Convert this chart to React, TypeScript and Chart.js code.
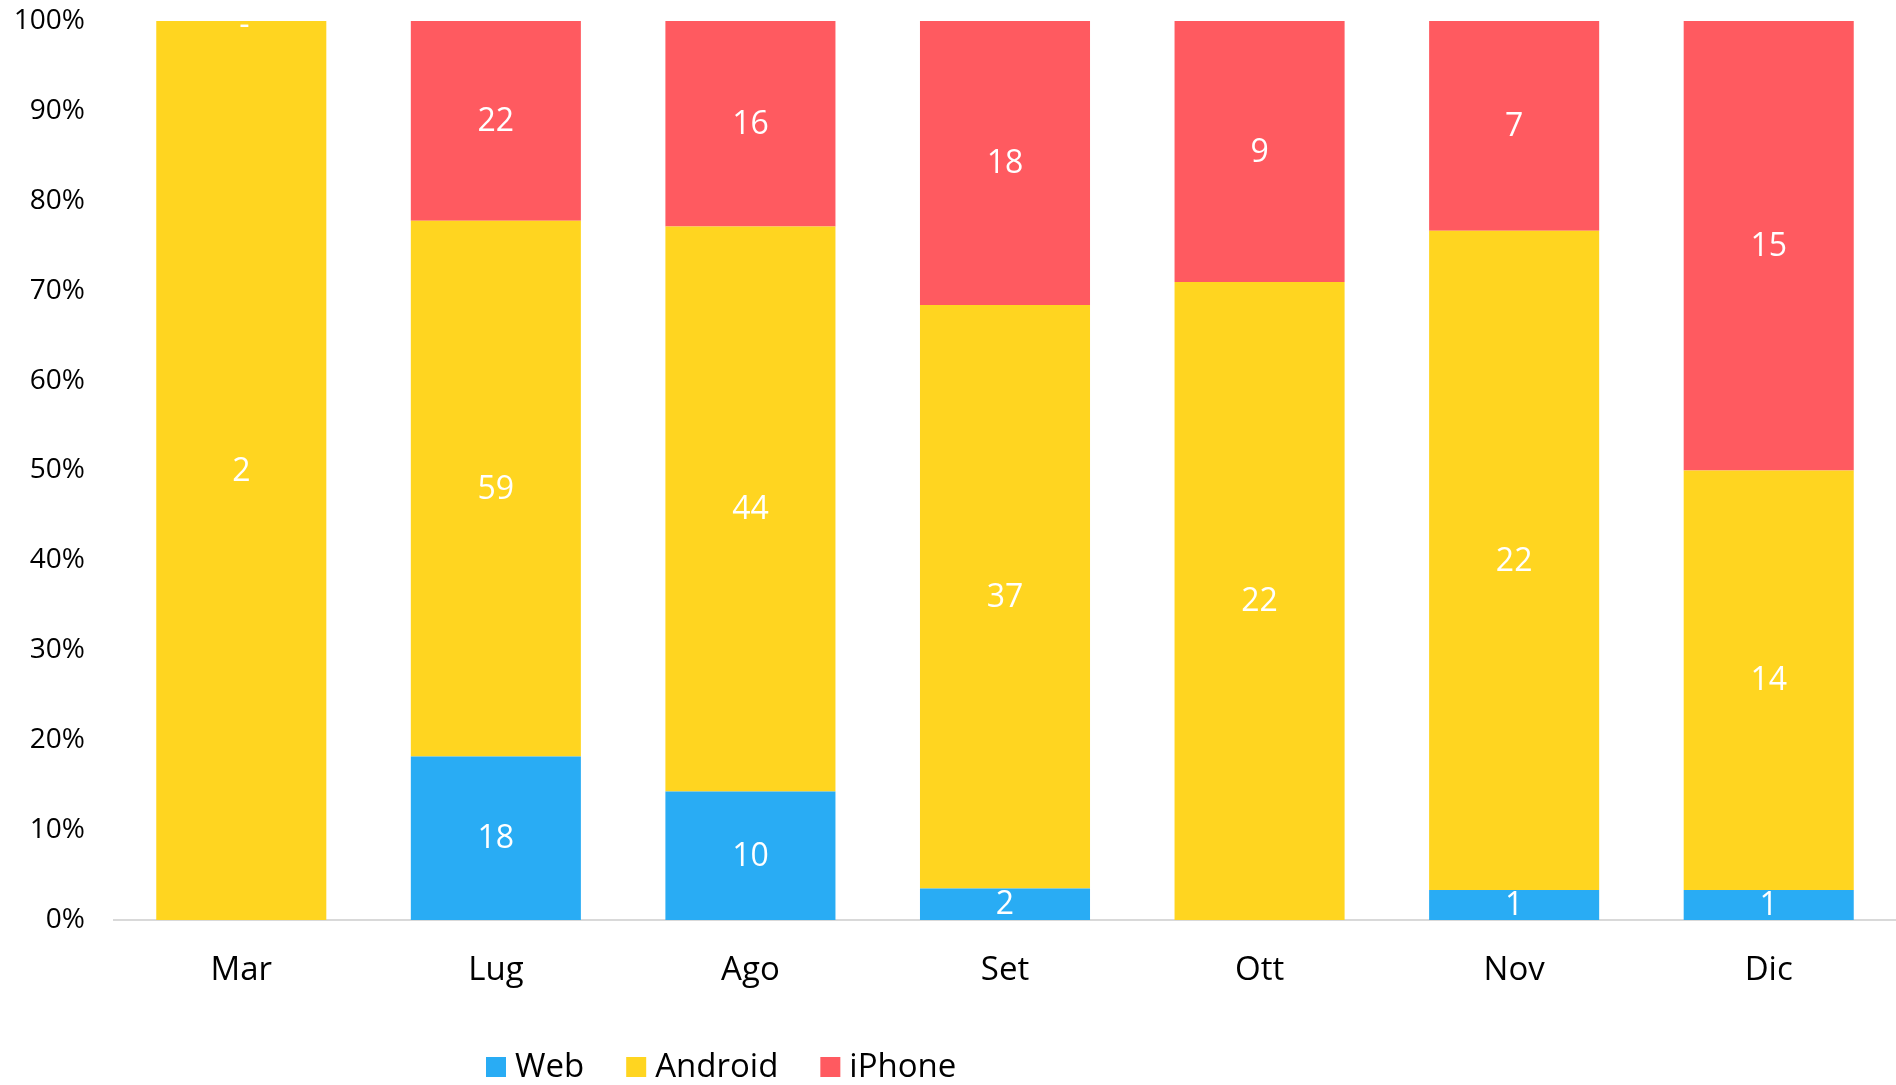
import React, { useEffect, useRef } from "react";
import { Chart, registerables } from "chart.js";

Chart.register(...registerables);

const categories = ["Mar", "Lug", "Ago", "Set", "Ott", "Nov", "Dic"];
const webValues = [0, 18, 10, 2, 0, 1, 1];
const androidValues = [2, 59, 44, 37, 22, 22, 14];
const iphoneValues = [0, 22, 16, 18, 9, 7, 15];
const yTicks = [0, 10, 20, 30, 40, 50, 60, 70, 80, 90, 100];

const seriesNames = ["Web", "Android", "iPhone"];
const seriesColors = ["#29ACF4", "#FFD520", "#FF5A60"];
const FONT = "'Open Sans', 'Liberation Sans', sans-serif";

const rawSeries = [webValues, androidValues, iphoneValues];
const totals = categories.map((_, i) => rawSeries.reduce((s, arr) => s + arr[i], 0));
const pct = (arr: number[]) => arr.map((v, i) => (totals[i] ? (v / totals[i]) * 100 : 0));

const labelPlugin = {
  id: "segLabels",
  afterDatasetsDraw(chart: any) {
    const ctx = chart.ctx;
    ctx.save();
    ctx.font = `32px ${FONT}`;
    ctx.fillStyle = "#FFFFFF";
    ctx.textAlign = "center";
    ctx.textBaseline = "middle";
    const nds = chart.data.datasets.length;
    chart.data.datasets.forEach((ds: any, di: number) => {
      const meta = chart.getDatasetMeta(di);
      meta.data.forEach((bar: any, i: number) => {
        const raw = rawSeries[di][i];
        let text = "";
        if (raw > 0) text = String(raw);
        else if (di === nds - 1) text = "-";
        if (!text) return;
        const cy = (bar.y + bar.base) / 2;
        ctx.fillText(text, text === "-" ? bar.x + 3 : bar.x, text === "-" ? cy + 5 : cy + 1);
      });
    });
    ctx.restore();
  },
};

const legendPlugin = {
  id: "customLegend",
  afterDraw(chart: any) {
    const ctx = chart.ctx;
    ctx.save();
    ctx.font = `33px ${FONT}`;
    ctx.textBaseline = "middle";
    ctx.textAlign = "left";
    let x = 486;
    const cy = 1067;
    seriesNames.forEach((name, i) => {
      ctx.fillStyle = seriesColors[i];
      ctx.fillRect(x, cy - 10, 20, 20);
      ctx.fillStyle = "#000000";
      ctx.fillText(name, x + 29, cy + 1);
      x += 29 + ctx.measureText(name).width + 42;
    });
    ctx.restore();
  },
};

export default function App() {
  const ref = useRef<HTMLCanvasElement | null>(null);
  useEffect(() => {
    if (!ref.current) return;
    const chart = new Chart(ref.current, {
      type: "bar",
      data: {
        labels: categories,
        datasets: rawSeries.map((arr, i) => ({
          label: seriesNames[i],
          data: pct(arr),
          backgroundColor: seriesColors[i],
          borderWidth: 0,
          barPercentage: 0.668,
          categoryPercentage: 1,
        })),
      },
      options: {
        responsive: false,
        animation: false,
        layout: { padding: { top: 0, bottom: 60, left: 0, right: 0 } },
        plugins: { legend: { display: false }, tooltip: { enabled: false } },
        scales: {
          x: {
            stacked: true,
            grid: { display: false },
            border: { display: true, color: "#D9D9D9", width: 2 },
            ticks: { font: { family: FONT, size: 33 }, color: "#000000", padding: 23 },
            afterFit: (s: any) => {
              s.height = 1085 - 60 - 920;
              s.paddingLeft = 0;
              s.paddingRight = 0;
            },
          },
          y: {
            stacked: true,
            min: 0,
            max: 100,
            grid: { display: false },
            border: { display: false },
            afterBuildTicks: (s: any) => {
              s.ticks = yTicks.map((v) => ({ value: v }));
            },
            ticks: {
              font: { family: FONT, size: 28 },
              color: "#000000",
              padding: 21,
              callback: (v: any) => `${v}%`,
            },
            afterFit: (s: any) => {
              s.width = 114;
              s.paddingTop = 21;
              s.paddingBottom = 0;
            },
          },
        },
      },
      plugins: [labelPlugin, legendPlugin],
    });
    return () => chart.destroy();
  }, []);
  return (
    <canvas
      ref={ref}
      width={1896}
      height={1085}
      style={{ position: "fixed", left: 0, top: 0, width: 1896, height: 1085, background: "#FFFFFF" }}
    />
  );
}
